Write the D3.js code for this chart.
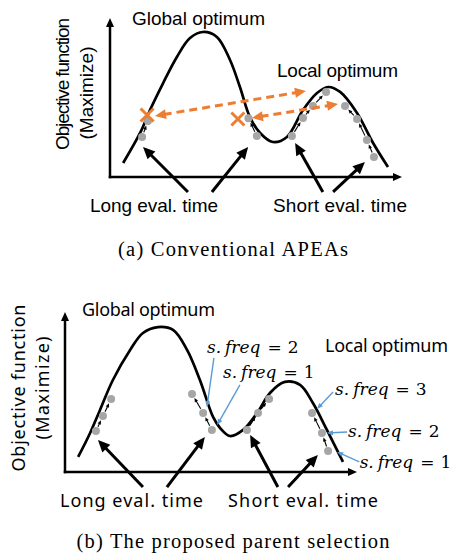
<!DOCTYPE html>
<html>
<head>
<meta charset="utf-8">
<script src="https://cdn.jsdelivr.net/npm/d3@7"></script>
<style>
  body { margin: 0; background: #fff; }
</style>
</head>
<body>
<div id="chart"></div>
<script>
// All values are in axis units: 0..100 along each arrow axis
const curveA = [[4.5,8.8],[10.3,27.7],[13.7,42.1],[18.2,59.1],[22.9,75.5],[27.4,87.4],[31.8,91.2],
  [36.6,88.1],[41.1,73.6],[44.5,56.6],[47.9,37.7],[51.4,27.7],[55.8,22.0],[60.6,25.2],[66.1,42.1],
  [70.9,52.8],[74.7,56.6],[78.8,53.5],[84.6,40.3],[90.1,21.4],[95.2,6.3]];
const curveB = [[4.5,9.4],[8.6,24.4],[12.0,38.8],[16.4,57.5],[22.3,76.3],[26.7,86.9],[31.8,90.6],
  [37.0,88.8],[41.8,76.3],[46.2,57.5],[50.7,34.4],[53.1,27.5],[56.5,22.5],[61.0,26.3],[65.8,36.9],
  [70.2,49.4],[75.3,56.3],[80.5,54.4],[84.9,43.1],[89.7,26.3],[95.2,6.3]];

// individuals (gray dots)
const dotsA = [[11.0,25.2],[13.0,35.2],[47.4,36.9],[50.3,25.8],[62.3,25.8],[66.1,37.1],[69.5,44.7],
  [74.0,53.5],[80.5,44.7],[84.6,36.5],[88.0,23.3],[90.4,12.6]];
const dotsB = [[10.6,25.6],[13.0,35.0],[15.8,45.6],[43.5,48.8],[47.3,36.9],[50.3,26.3],[62.3,26.3],
  [66.1,36.9],[69.9,45.6],[84.6,36.9],[88.0,24.4],[90.1,13.1]];

// hill-climbing moves, chains of dot indices
const movesA = [[0,1],[3,2],[4,5,6,7],[11,10,9,8]];
const movesB = [[0,1,2],[5,4,3],[6,7,8],[11,10,9]];

// replaced individuals and swap arrows (panel a)
const crossesA = [[12.7,39.0],[43.8,36.5]];
const swapsA = [[[15.4,38.4],[67.1,54.1]], [[48.6,37.1],[78.1,45.9]]];

// pointers from the eval. time labels
const pointersA = [[[26.7,-9.4],[11.3,18.9]], [[34.9,-9.4],[47.3,18.9]],
  [[72.9,-9.4],[63.4,21.4]], [[76.4,-9.4],[87.3,9.4]]];
const pointersB = [[[26.7,-9.4],[11.3,20.0]], [[34.9,-9.4],[47.9,21.9]],
  [[72.9,-9.4],[63.4,23.1]], [[76.4,-9.4],[86.6,10.6]]];

// selection frequency notes (panel b)
const freqValues = [2, 1, 3, 2, 1];
const freqAt = [[48.6,74.4],[54.1,58.8],[92.5,48.1],[96.9,21.9],[100.9,2.5]];
const freqLeaders = [[[51.0,71.3],[48.6,40.6]], [[59.9,54.4],[52.1,29.4]], [[91.8,50.0],[86.3,39.4]],
  [[96.6,25.0],[89.7,24.4]], [[100.8,6.3],[93.2,12.5]]];

const optimumLabels = ["Global optimum", "Local optimum"];
const timeLabels = ["Long eval. time", "Short eval. time"];
const axisLabel = ["Objective function", "(Maximize)"];
const captions = ["(a) Conventional APEAs", "(b) The proposed parent selection"];

const orange = "#ED7D31";
const blue = "#5B9BD5";
const gray = "#A6A6A6";

const svg = d3.select("#chart")
  .append("svg")
  .attr("width", 453)
  .attr("height", 553);

// line with a filled triangular head (optionally at both ends)
function arrow(g, a, b, s) {
  const dx = b[0] - a[0], dy = b[1] - a[1];
  const L = Math.hypot(dx, dy), ux = dx / L, uy = dy / L;
  const cut = s.head * 0.8;
  const a2 = s.both ? [a[0] + ux * cut, a[1] + uy * cut] : a;
  const b2 = [b[0] - ux * cut, b[1] - uy * cut];
  g.append("line")
    .attr("x1", a2[0]).attr("y1", a2[1])
    .attr("x2", b2[0]).attr("y2", b2[1])
    .attr("stroke", s.color)
    .attr("stroke-width", s.width)
    .attr("stroke-dasharray", s.dash || null);
  const head = (t, vx, vy) => {
    const bx = t[0] - vx * s.head, by = t[1] - vy * s.head;
    const px = -vy * s.hw / 2, py = vx * s.hw / 2;
    g.append("polygon")
      .attr("points", [[t[0], t[1]], [bx + px, by + py], [bx - px, by - py]].join(" "))
      .attr("fill", s.color);
  };
  head(b, ux, uy);
  if (s.both) head(a, -ux, -uy);
}

const axisStyle = {color: "#000", width: 2.5, head: 9, hw: 8};
const bigStyle = {color: "#000", width: 3, head: 12, hw: 11};
const smallStyle = {color: "#000", width: 1.1, head: 4, hw: 3.6};
const swapStyle = {color: orange, width: 3, head: 11, hw: 10, dash: "8,5", both: true};
const leaderStyle = {color: blue, width: 1.4, head: 6, hw: 5};

function drawPanel(p) {
  const x = d3.scaleLinear().domain([0, 100]).range([p.left, p.right]);
  const y = d3.scaleLinear().domain([0, 100]).range([p.bottom, p.top]);
  const pt = d => [x(d[0]), y(d[1])];
  const g = svg.append("g");

  // bare arrow axes
  arrow(g, [x(0), y(0) + 1.25], pt([0, 100]), axisStyle);
  arrow(g, [x(0) - 1.25, y(0)], pt([100, 0]), axisStyle);

  g.append("path")
    .datum(p.curve)
    .attr("d", d3.line().x(d => x(d[0])).y(d => y(d[1])).curve(d3.curveCatmullRom.alpha(0.5)))
    .attr("fill", "none")
    .attr("stroke", "#000")
    .attr("stroke-width", 2.7);

  // small climbing arrows between dots
  const r = 4;
  p.moves.forEach(chain => {
    for (let i = 0; i < chain.length - 1; i++) {
      const a = pt(p.dots[chain[i]]), b = pt(p.dots[chain[i + 1]]);
      const L = Math.hypot(b[0] - a[0], b[1] - a[1]);
      const ux = (b[0] - a[0]) / L, uy = (b[1] - a[1]) / L;
      arrow(g, [a[0] + ux * (r + 0.8), a[1] + uy * (r + 0.8)],
               [b[0] - ux * (r + 0.8), b[1] - uy * (r + 0.8)], smallStyle);
    }
  });

  g.selectAll("circle.ind")
    .data(p.dots)
    .enter()
    .append("circle")
    .attr("class", "ind")
    .attr("cx", d => x(d[0]))
    .attr("cy", d => y(d[1]))
    .attr("r", r)
    .attr("fill", gray);

  p.pointers.forEach(d => arrow(g, pt(d[0]), pt(d[1]), bigStyle));

  // texts
  g.append("text").attr("x", p.globalAt[0]).attr("y", p.globalAt[1])
    .attr("textLength", p.globalAt[2]).text(optimumLabels[0]);
  g.append("text").attr("x", p.localAt[0]).attr("y", p.localAt[1])
    .attr("textLength", p.localAt[2]).text(optimumLabels[1]);
  g.append("text").attr("x", p.longAt[0]).attr("y", p.longAt[1])
    .attr("textLength", p.longAt[2]).text(timeLabels[0]);
  g.append("text").attr("x", p.shortAt[0]).attr("y", p.shortAt[1])
    .attr("textLength", p.shortAt[2]).text(timeLabels[1]);
  axisLabel.forEach((t, i) => {
    const a = p.ylabAt[i];
    g.append("text")
      .attr("transform", `translate(${a[0]},${a[1]}) rotate(-90)`)
      .attr("text-anchor", "middle")
      .attr("textLength", a[2])
      .text(t);
  });
  g.selectAll("text")
    .attr("font-family", p.font)
    .attr("font-size", p.fontSize)
    .attr("fill", "#000");

  svg.append("text")
    .attr("x", 233)
    .attr("y", p.captionY)
    .attr("text-anchor", "middle")
    .attr("font-family", "'Liberation Serif', 'Times New Roman', serif")
    .attr("font-size", 20.5)
    .attr("textLength", p.captionLen)
    .text(p.caption);

  return {g, x, y, pt};
}

// ---- panel (a): conventional APEAs
const A = drawPanel({
  left: 110, right: 402, bottom: 177, top: 18,
  curve: curveA, dots: dotsA, moves: movesA, pointers: pointersA,
  font: "'Liberation Sans', Arial, sans-serif", fontSize: 19,
  globalAt: [132, 25, 133], localAt: [277, 77, 121],
  longAt: [90, 212, 128], shortAt: [273, 212, 134],
  ylabAt: [[69, 84, 132], [93, 93, 93]],
  caption: captions[0], captionY: 256, captionLen: 230
});

crossesA.forEach(d => {
  const c = A.pt(d), h = 6.5;
  A.g.append("path")
    .attr("d", `M${c[0]-h},${c[1]-h}L${c[0]+h},${c[1]+h}M${c[0]+h},${c[1]-h}L${c[0]-h},${c[1]+h}`)
    .attr("stroke", orange)
    .attr("stroke-width", 3);
});
swapsA.forEach(d => arrow(A.g, A.pt(d[0]), A.pt(d[1]), swapStyle));

// ---- panel (b): proposed parent selection
const B = drawPanel({
  left: 65, right: 357, bottom: 472, top: 312,
  curve: curveB, dots: dotsB, moves: movesB, pointers: pointersB,
  font: "'Noto Sans', 'Open Sans', sans-serif", fontSize: 18,
  globalAt: [82, 316, 133], localAt: [325, 352, 123],
  longAt: [60, 507, 143], shortAt: [228, 507, 150],
  ylabAt: [[25, 388, 167], [49, 388, 103]],
  caption: captions[1], captionY: 548, captionLen: 313
});

freqLeaders.forEach(d => arrow(B.g, B.pt(d[0]), B.pt(d[1]), leaderStyle));

freqValues.forEach((v, i) => {
  const p = B.pt(freqAt[i]);
  const t = B.g.append("text")
    .attr("x", p[0])
    .attr("y", p[1])
    .attr("font-family", "'DejaVu Serif', serif")
    .attr("font-size", 17)
    .attr("fill", "#000");
  t.append("tspan").attr("font-style", "italic").text("s.");
  t.append("tspan").attr("font-style", "italic").attr("dx", 4).text("freq");
  t.append("tspan").attr("dx", 7).text("=");
  t.append("tspan").attr("dx", 6).text(v);
});
</script>
</body>
</html>
